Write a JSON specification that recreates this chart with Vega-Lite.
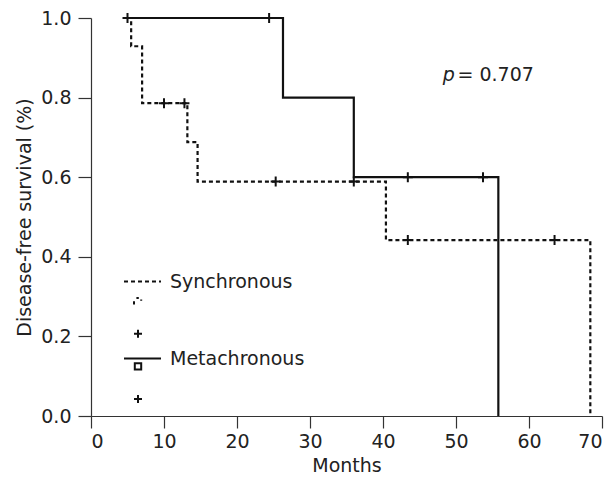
{
  "$schema": "https://vega.github.io/schema/vega-lite/v6.json",
  "width": 511,
  "height": 398,
  "autosize": {"type": "none"},
  "padding": {"left": 91, "top": 18, "right": 12, "bottom": 68},
  "background": "white",
  "config": {
    "view": {"stroke": null},
    "font": "DejaVu Sans",
    "axis": {
      "grid": false,
      "domainColor": "#333",
      "domainWidth": 1.2,
      "tickColor": "#333",
      "tickWidth": 1.2,
      "labelColor": "#222",
      "titleColor": "#222",
      "labelFontSize": 19,
      "titleFontSize": 19,
      "titleFontWeight": "normal",
      "labelFont": "DejaVu Sans",
      "titleFont": "DejaVu Sans"
    },
    "legend": {
      "labelFont": "DejaVu Sans"
    }
  },
  "datasets": {
    "curves": [
      {"group": "Synchronous", "month": 5, "survival": 1.0},
      {"group": "Synchronous", "month": 5.5, "survival": 0.929},
      {"group": "Synchronous", "month": 7, "survival": 0.786},
      {"group": "Synchronous", "month": 13.2, "survival": 0.688},
      {"group": "Synchronous", "month": 14.6, "survival": 0.589},
      {"group": "Synchronous", "month": 40.4, "survival": 0.442},
      {"group": "Synchronous", "month": 68.4, "survival": 0.442},
      {"group": "Synchronous", "month": 68.4, "survival": 0.0},
      {"group": "Metachronous", "month": 5, "survival": 1.0},
      {"group": "Metachronous", "month": 26.3, "survival": 0.8},
      {"group": "Metachronous", "month": 36, "survival": 0.6},
      {"group": "Metachronous", "month": 55.8, "survival": 0.6},
      {"group": "Metachronous", "month": 55.8, "survival": 0.0}
    ],
    "censor": [
      {"marker": "Metachronous censored", "month": 5, "survival": 1.0},
      {"marker": "Metachronous censored", "month": 24.4, "survival": 1.0},
      {"marker": "Metachronous censored", "month": 43.4, "survival": 0.6},
      {"marker": "Metachronous censored", "month": 53.7, "survival": 0.6},
      {"marker": "Synchronous censored", "month": 10, "survival": 0.786},
      {"marker": "Synchronous censored", "month": 12.8, "survival": 0.786},
      {"marker": "Synchronous censored", "month": 25.3, "survival": 0.589},
      {"marker": "Synchronous censored", "month": 36, "survival": 0.589},
      {"marker": "Synchronous censored", "month": 43.4, "survival": 0.442},
      {"marker": "Synchronous censored", "month": 63.5, "survival": 0.442}
    ]
  },
  "layer": [
    {
      "data": {"name": "curves"},
      "mark": {"type": "line", "interpolate": "step-after", "color": "#111", "strokeWidth": 2.2},
      "encoding": {
        "x": {
          "field": "month", "type": "quantitative",
          "scale": {"domain": [0, 70], "nice": false, "zero": true},
          "axis": {"values": [0, 10, 20, 30, 40, 50, 60, 70], "tickSize": 12, "labelPadding": 4, "title": "Months", "titlePadding": 5}
        },
        "y": {
          "field": "survival", "type": "quantitative",
          "scale": {"domain": [0, 1], "nice": false},
          "axis": {"values": [0, 0.2, 0.4, 0.6, 0.8, 1.0], "format": ".1f", "tickSize": 13, "labelPadding": 7, "title": "Disease-free survival (%)", "titlePadding": 6}
        },
        "strokeDash": {
          "field": "group", "type": "nominal",
          "scale": {"domain": ["Synchronous", "Metachronous"], "range": [[4, 3], [1, 0]]},
          "legend": {
            "orient": "none",
            "legendX": 32,
            "legendY": 244,
            "title": null,
            "padding": 0,
            "symbolType": "stroke",
            "symbolSize": 1369,
            "symbolStrokeWidth": 2,
            "symbolStrokeColor": "#111",
            "labelFontSize": 19,
            "labelColor": "#222",
            "labelOffset": 8,
            "rowPadding": 47
          }
        }
      }
    },
    {
      "data": {"name": "censor"},
      "mark": {"type": "point", "size": 100, "stroke": "#111", "strokeWidth": 2, "filled": false, "opacity": 1},
      "encoding": {
        "x": {"field": "month", "type": "quantitative"},
        "y": {"field": "survival", "type": "quantitative"},
        "shape": {
          "field": "marker", "type": "nominal",
          "scale": {
            "domain": ["Synchronous event", "Synchronous censored", "Metachronous event", "Metachronous censored"],
            "range": ["M-1,-0.2V0.6M-0.4,-1H0.2M0.8,-0.6V-0.3", "M-1,0H1M0,-1V1", "M-0.8,-0.8H0.8V0.8H-0.8Z", "M-1,0H1M0,-1V1"]
          },
          "legend": {
            "orient": "none",
            "legendX": 42,
            "legendY": 279,
            "title": null,
            "padding": 0,
            "labelExpr": "''",
            "labelFontSize": 1,
            "symbolSize": 64,
            "symbolStrokeWidth": 2,
            "symbolStrokeColor": "#111",
            "symbolFillColor": "transparent",
            "rowPadding": 16.7
          }
        }
      }
    },
    {
      "data": {"values": [{"t": "p"}]},
      "mark": {"type": "text", "fontStyle": "italic", "align": "left", "baseline": "middle", "fontSize": 19, "color": "#222"},
      "encoding": {
        "x": {"datum": 48.2, "type": "quantitative"},
        "y": {"datum": 0.858, "type": "quantitative"},
        "text": {"field": "t"}
      }
    },
    {
      "data": {"values": [{"t": "= 0.707"}]},
      "mark": {"type": "text", "align": "left", "baseline": "middle", "fontSize": 19, "color": "#222"},
      "encoding": {
        "x": {"datum": 50.2, "type": "quantitative"},
        "y": {"datum": 0.858, "type": "quantitative"},
        "text": {"field": "t"}
      }
    }
  ]
}
